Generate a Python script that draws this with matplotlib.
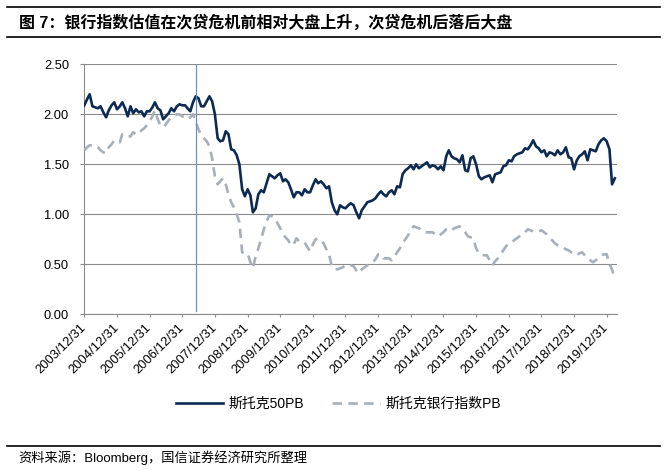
import matplotlib
matplotlib.use("Agg")
import matplotlib.pyplot as plt
import matplotlib.dates as mdates
from matplotlib.lines import Line2D
import pandas as pd

plt.rcParams['font.family'] = ['Liberation Sans', 'Noto Sans CJK SC', 'DejaVu Sans']

title = "图 7：银行指数估值在次贷危机前相对大盘上升，次贷危机后落后大盘"
source = "资料来源：Bloomberg，国信证券经济研究所整理"
series_names = ["斯托克50PB", "斯托克银行指数PB"]

start_date = "2003-12-31"
crisis_date = "2007-05-31"
tick_labels = [f"{y}/12/31" for y in range(2003, 2020)]
y_ticks = [0.0, 0.5, 1.0, 1.5, 2.0, 2.5]

# monthly values, Dec 2003 .. Mar 2020
stoxx50_pb = [
    2.09, 2.15, 2.20, 2.08, 2.07, 2.06, 2.08, 2.02, 1.97, 2.04, 2.09, 2.12,
    2.05, 2.08, 2.12, 2.06, 1.98, 2.08, 2.01, 2.05, 2.02, 2.03, 1.98, 2.03,
    2.03, 2.07, 2.12, 2.06, 2.04, 1.95, 1.98, 2.01, 2.06, 2.03, 2.08, 2.10,
    2.09, 2.09, 2.06, 2.03, 2.12, 2.18, 2.16, 2.08, 2.08, 2.13, 2.18, 2.13,
    2.00, 1.76, 1.73, 1.74, 1.83, 1.80, 1.65, 1.64, 1.59, 1.50, 1.25, 1.18,
    1.25, 1.19, 1.02, 1.06, 1.20, 1.24, 1.22, 1.31, 1.40, 1.38, 1.36, 1.39,
    1.41, 1.33, 1.35, 1.32, 1.25, 1.17, 1.22, 1.22, 1.19, 1.25, 1.22, 1.22,
    1.29, 1.35, 1.31, 1.33, 1.30, 1.26, 1.28, 1.12, 1.04, 1.00, 1.09, 1.07,
    1.06, 1.09, 1.11, 1.09, 1.02, 0.96, 1.04, 1.08, 1.12, 1.13, 1.14, 1.16,
    1.20, 1.23, 1.20, 1.18, 1.22, 1.24, 1.20, 1.28, 1.27, 1.40, 1.44, 1.46,
    1.49, 1.45, 1.50, 1.46, 1.48, 1.50, 1.52, 1.47, 1.49, 1.48, 1.45, 1.48,
    1.44, 1.58, 1.64, 1.58, 1.56, 1.55, 1.52, 1.59, 1.44, 1.43, 1.56, 1.58,
    1.50, 1.38, 1.35, 1.37, 1.38, 1.39, 1.32, 1.40, 1.41, 1.42, 1.48, 1.49,
    1.54, 1.53, 1.58, 1.60, 1.61, 1.62, 1.66, 1.65, 1.69, 1.74, 1.68, 1.66,
    1.62, 1.64, 1.58, 1.62, 1.61, 1.59, 1.64, 1.60, 1.62, 1.67, 1.57, 1.56,
    1.45, 1.54, 1.58, 1.60, 1.63, 1.54, 1.65, 1.64, 1.63, 1.70, 1.74, 1.76,
    1.73, 1.65, 1.30, 1.36,
]
stoxx_banks_pb = [
    1.64, 1.67, 1.69, 1.69, 1.69, 1.67, 1.64, 1.62, 1.61, 1.67, 1.70, 1.74,
    1.73, 1.72, 1.80, 1.80, 1.78, 1.78, 1.82, 1.80, 1.80, 1.84, 1.86, 1.89,
    1.93, 1.98, 2.04, 1.95, 1.89, 1.87, 1.90, 1.94, 1.97, 1.98, 2.00, 2.00,
    1.98, 1.97, 1.95, 1.97, 2.00, 1.93, 1.85, 1.79, 1.76, 1.73, 1.68, 1.56,
    1.38, 1.30, 1.33, 1.36, 1.30, 1.20, 1.12, 1.07, 1.00, 0.92, 0.62, 0.61,
    0.61, 0.52, 0.46, 0.58, 0.66, 0.75, 0.85, 0.93, 0.99, 0.98, 0.96, 0.91,
    0.86, 0.80, 0.77, 0.74, 0.69, 0.70, 0.76, 0.73, 0.72, 0.72, 0.67, 0.63,
    0.70, 0.75, 0.76, 0.74, 0.71, 0.65, 0.60, 0.48, 0.45, 0.45, 0.46, 0.47,
    0.49, 0.50, 0.49, 0.48, 0.44, 0.41, 0.45, 0.47, 0.49, 0.50, 0.52, 0.55,
    0.60, 0.60, 0.56, 0.56, 0.56, 0.54, 0.58, 0.62, 0.66, 0.71, 0.75, 0.79,
    0.84, 0.88, 0.87, 0.86, 0.84, 0.82, 0.82, 0.82, 0.82, 0.80, 0.78, 0.80,
    0.82, 0.85, 0.86, 0.84, 0.86, 0.87, 0.88, 0.85, 0.82, 0.78, 0.77, 0.76,
    0.66, 0.61, 0.59, 0.59, 0.59, 0.54, 0.49, 0.53, 0.56, 0.60, 0.64, 0.68,
    0.71, 0.72, 0.74, 0.76, 0.78, 0.79, 0.82, 0.85, 0.84, 0.83, 0.82, 0.83,
    0.84, 0.82, 0.80, 0.77, 0.74, 0.71, 0.69, 0.68, 0.67, 0.65, 0.64, 0.62,
    0.61, 0.59, 0.61, 0.62, 0.59, 0.56, 0.54, 0.52, 0.54, 0.56, 0.59, 0.60,
    0.60, 0.50, 0.45, 0.35,
]

dates = pd.date_range(start_date, periods=len(stoxx50_pb), freq="ME")
tick_dates = pd.to_datetime(tick_labels, format="%Y/%m/%d")

W, H = 667, 470
fig = plt.figure(figsize=(W / 100, H / 100), dpi=100)
fig.patch.set_facecolor("white")

ax_l, ax_r, ax_t, ax_b = 84.3, 616.7, 64.3, 314.3
ax = fig.add_axes([ax_l / W, 1 - ax_b / H, (ax_r - ax_l) / W, (ax_b - ax_t) / H])

grid_c = "#8a8a8a"
navy = "#0c2a52"
gray = "#a7afb9"

ax.plot(dates, stoxx50_pb, color=navy, lw=1.9, solid_joinstyle="round",
        label=series_names[0], zorder=3)
ln, = ax.plot(dates, stoxx_banks_pb, color=gray, lw=1.9, label=series_names[1],
              zorder=3)
ln.set_dashes([3.6, 2.4])
ax.axvline(pd.Timestamp(crisis_date), ymin=0.015, ymax=1.0, color="#6f8fc2",
           lw=0.9, zorder=4)

ax.set_xlim(pd.Timestamp("2003-12-31"), pd.Timestamp("2020-04-21"))
ax.set_ylim(0, 2.5)
ax.set_yticks(y_ticks)
ax.set_yticklabels([f"{v:.2f}" for v in y_ticks], fontsize=9.3)
ax.yaxis.grid(True, color=grid_c, lw=0.8)
ax.set_axisbelow(True)

ax.set_xticks(tick_dates)
ax.set_xticklabels(tick_labels, rotation=45, ha="right", va="center",
                   rotation_mode="anchor", fontsize=9.3)

for s in ["top", "right"]:
    ax.spines[s].set_visible(False)
for s in ["left", "bottom"]:
    ax.spines[s].set_color(grid_c)
    ax.spines[s].set_linewidth(0.8)
ax.tick_params(axis="y", length=3, width=0.8, color=grid_c, pad=8)
ax.tick_params(axis="x", length=2.5, width=0.8, color=grid_c, pad=6)

leg = fig.legend(loc="center", bbox_to_anchor=(338.5 / W, 1 - 404.3 / H),
                 ncol=2, frameon=False, fontsize=10, handlelength=3.4,
                 handletextpad=0.4, columnspacing=2.0)

# title and source rules
def hline(ypix, x0=7, x1=660, lw=1.2):
    fig.add_artist(Line2D([x0 / W, x1 / W], [1 - ypix / H, 1 - ypix / H],
                          transform=fig.transFigure, color="black", lw=lw))

hline(6.7)
hline(37.3)
hline(445.7)

fig.text(19 / W, 1 - 22.7 / H, title, fontsize=11.5, fontweight="bold",
         ha="left", va="center")
fig.text(18 / W, 1 - 458 / H, source, fontsize=9.5, ha="left", va="center")

fig.savefig("out.png", dpi=100, facecolor="white")
